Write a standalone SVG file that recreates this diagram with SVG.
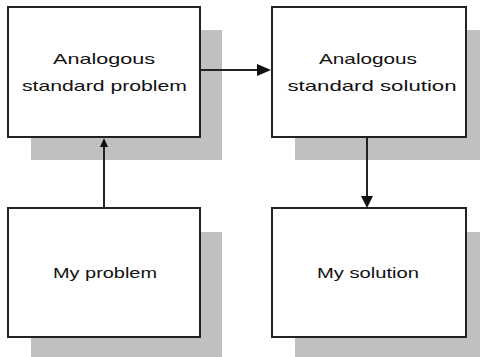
<svg xmlns="http://www.w3.org/2000/svg" width="480" height="357" viewBox="0 0 480 357">
<style>
.shadow{fill:#c0c0c0;stroke:none}
.box{fill:#fff;stroke:#222;stroke-width:2}
.lbl{font-family:"Liberation Sans",Arial,sans-serif;font-size:15px;fill:#111;text-anchor:middle}
.ln{stroke:#222;stroke-width:2;fill:none}
.ah{fill:#111;stroke:none}
</style>
<rect width="480" height="357" fill="#fff"/>
<g id="node-analogous-problem">
<rect class="shadow" x="31" y="30" width="191" height="130"/>
<rect class="box" x="8" y="7" width="192" height="130"/>
<text class="lbl" x="104" y="64" textLength="102" lengthAdjust="spacingAndGlyphs">Analogous</text>
<text class="lbl" x="104.5" y="91" textLength="165" lengthAdjust="spacingAndGlyphs">standard problem</text>
</g>
<g id="node-analogous-solution">
<rect class="shadow" x="295" y="30" width="185" height="130"/>
<rect class="box" x="272" y="7" width="194" height="130"/>
<text class="lbl" x="368" y="64" textLength="98" lengthAdjust="spacingAndGlyphs">Analogous</text>
<text class="lbl" x="372" y="91" textLength="169" lengthAdjust="spacingAndGlyphs">standard solution</text>
</g>
<g id="node-my-problem">
<rect class="shadow" x="31" y="232" width="191" height="125"/>
<rect class="box" x="8" y="208" width="192" height="129"/>
<text class="lbl" x="105" y="278" textLength="104" lengthAdjust="spacingAndGlyphs">My problem</text>
</g>
<g id="node-my-solution">
<rect class="shadow" x="295" y="232" width="185" height="125"/>
<rect class="box" x="272" y="208" width="194" height="129"/>
<text class="lbl" x="368" y="278" textLength="102" lengthAdjust="spacingAndGlyphs">My solution</text>
</g>
<g id="connectors">
<line class="ln" x1="104" y1="208" x2="104" y2="145"/>
<polygon class="ah" points="104,138 100,147 108,147"/>
<line class="ln" x1="200" y1="70" x2="258" y2="70"/>
<polygon class="ah" points="271,70 257,64 257,76"/>
<line class="ln" x1="367" y1="137" x2="367" y2="197"/>
<polygon class="ah" points="367,208 361,196 373,196"/>
</g>
</svg>
